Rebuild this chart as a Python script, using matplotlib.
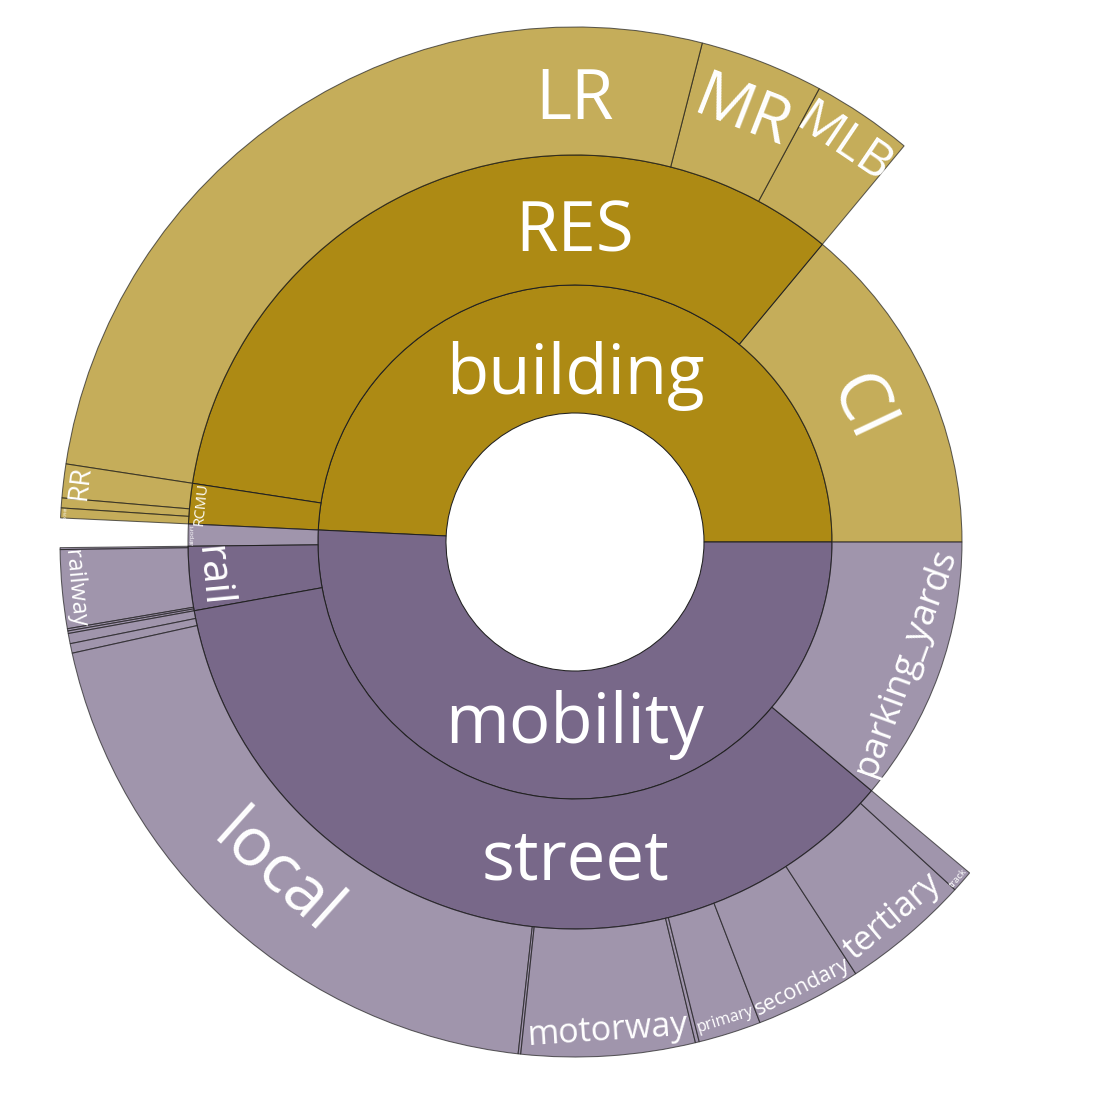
import numpy as np
import matplotlib
matplotlib.use("Agg")
from matplotlib import pyplot as plt
from matplotlib.patches import Wedge
from matplotlib.colors import to_rgb

# hierarchy, drawn counter-clockwise from 3 o'clock (values in per-mille of total area)
inner_labels = ["building", "mobility"]

mid_labels = ["CI", "RES", "RCMU", "airport", "rail", "street", "parking_yards"]
mid_parents = ["building", "building", "building", "mobility", "mobility", "mobility", "mobility"]
mid_values = [139.7, None, None, 9.2, None, None, 111.1]  # None -> sum of children

outer_labels = ["MLB", "MR", "LR",
                "RR", "SKYMR", "SKYHR",
                "tram", "railway", "subway", "light_rail",
                "trunk", "service", "local", "motorway_link", "motorway",
                "trunk_link", "primary", "secondary", "tertiary", "track"]
outer_parents = ["RES", "RES", "RES",
                 "RCMU", "RCMU", "RCMU",
                 "rail", "rail", "rail", "rail",
                 "street", "street", "street", "street", "street",
                 "street", "street", "street", "street", "street"]
outer_values = [31.7, 38.9, 265.6,
                10.6, 3.1, 3.1,
                0.6, 24.6, 0.7, 0.8,
                3.2, 3.0, 197.8, 0.8, 54.4,
                1.2, 19.7, 33.3, 40.3, 6.9]

colors = {"building": "#ad8a14", "mobility": "#786889"}

# text: font size (px), orientation, radius of text centre
label_style = {
    "building": (69, "h", 166),
    "mobility": (69, "h", 183),
    "RES": (69, "h", 309),
    "street": (69, "h", 319),
    "LR": (69, "h", 441),
    "CI": (71, "t", 314),
    "MR": (64, "t", 460),
    "MLB": (50, "t", 480),
    "RR": (28, "t", 498),
    "SKYHR": (4, "t", 510),
    "RCMU": (15, "t", 376),
    "airport": (6.5, "t", 383),
    "rail": (42, "t", 365),
    "railway": (23.5, "t", 503),
    "local": (68, "t", 448),
    "motorway": (34, "t", 490),
    "primary": (16, "t", 501),
    "secondary": (21.5, "t", 500),
    "tertiary": (34, "t", 491),
    "track": (9.5, "t", 510),
    "parking_yards": (37, "t", 352),
}

radii = [129, 257, 387, 515]

# sizes of every node
size = {}
for lab, par, val in zip(outer_labels, outer_parents, outer_values):
    size[lab] = val
for lab, par, val in zip(mid_labels, mid_parents, mid_values):
    if val is None:
        val = sum(v for l, p, v in zip(outer_labels, outer_parents, outer_values) if p == lab)
    size[lab] = val
for lab in inner_labels:
    size[lab] = sum(size[l] for l, p in zip(mid_labels, mid_parents) if p == lab)
total = sum(size[l] for l in inner_labels)

has_children = set(outer_parents) | set(mid_parents)
root_of = {l: l for l in inner_labels}
for l, p in zip(mid_labels, mid_parents):
    root_of[l] = p
for l, p in zip(outer_labels, outer_parents):
    root_of[l] = root_of[p]

# angular spans
span = {}
start = 0.0
for lab in inner_labels:
    span[lab] = (start, start + size[lab] / total * 360)
    start = span[lab][1]
for labels, parents in [(mid_labels, mid_parents), (outer_labels, outer_parents)]:
    cursor = {}
    for lab, par in zip(labels, parents):
        a0 = cursor.get(par, span[par][0])
        span[lab] = (a0, a0 + size[lab] / total * 360)
        cursor[par] = span[lab][1]

level = {}
for l in inner_labels:
    level[l] = 0
for l in mid_labels:
    level[l] = 1
for l in outer_labels:
    level[l] = 2

fig = plt.figure(figsize=(11, 11), dpi=100)
ax = fig.add_axes([0, 0, 1, 1])
ax.set_xlim(-575, 525)
ax.set_ylim(-558, 542)
ax.axis("off")

for lab in inner_labels + mid_labels + outer_labels:
    lv = level[lab]
    r_in, r_out = radii[lv], radii[lv + 1]
    a0, a1 = span[lab]
    rgb = to_rgb(colors[root_of[lab]])
    if lab in has_children:
        fc, ec = (*rgb, 1.0), (0.13, 0.13, 0.13, 1.0)
    else:
        fc, ec = (*rgb, 0.7), (0.13, 0.13, 0.13, 0.7)
    ax.add_patch(Wedge((0, 0), r_out, a0, a1, width=r_out - r_in,
                       facecolor=fc, edgecolor=ec, linewidth=0.75))

    if lab not in label_style:
        continue
    fs, mode, r_txt = label_style[lab]
    mid = (a0 + a1) / 2
    if mode == "h":
        ang = 90 if a0 <= 90 <= a1 else 270
        x, y = r_txt * np.cos(np.radians(ang)), r_txt * np.sin(np.radians(ang))
        rot = 0
    else:
        x, y = r_txt * np.cos(np.radians(mid)), r_txt * np.sin(np.radians(mid))
        rot = mid - 90
        while rot > 90:
            rot -= 180
        while rot <= -90:
            rot += 180
    ax.text(x, y, lab, color="white", fontsize=fs * 0.72, family="Open Sans",
            ha="center", va="center", rotation=rot, rotation_mode="anchor")

fig.savefig("out.png", dpi=100, facecolor="white")
